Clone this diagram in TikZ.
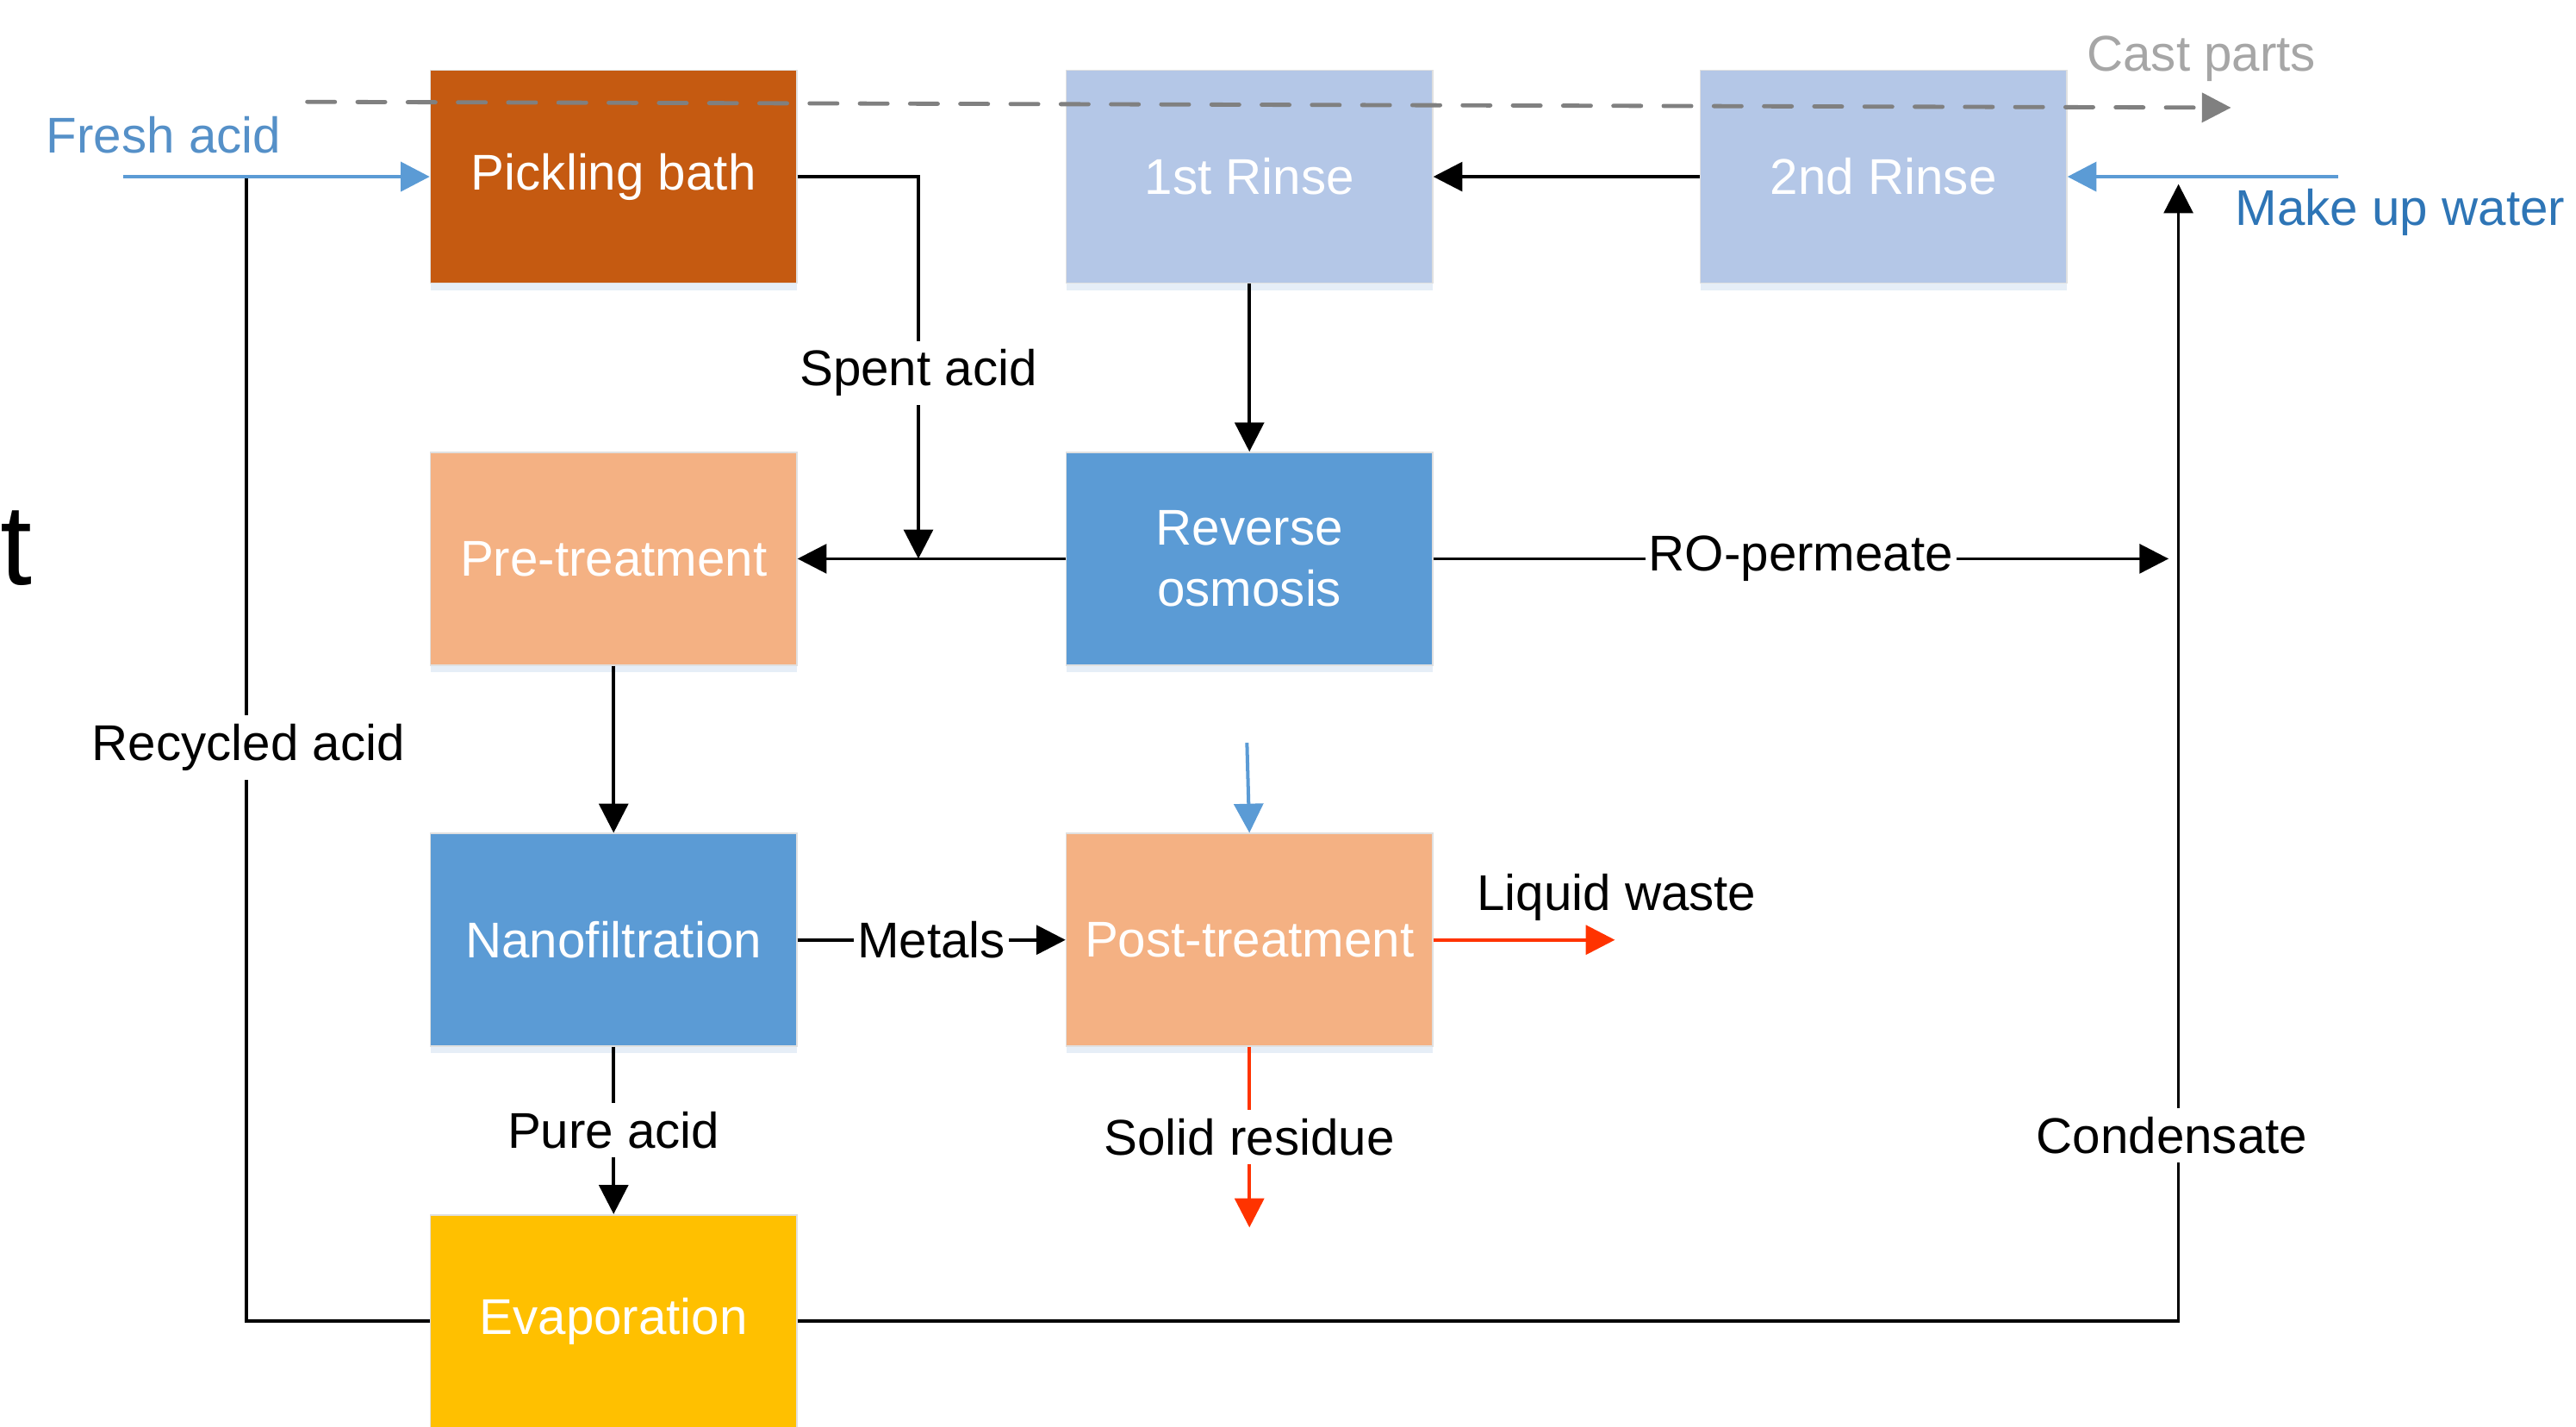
\documentclass[tikz,border=0pt]{standalone}
\usepackage{fontspec}
\setmainfont{Liberation Sans}
\usetikzlibrary{arrows.meta,shadows}

\definecolor{bathcol}{HTML}{C55A11}
\definecolor{rinsecol}{HTML}{B4C7E7}
\definecolor{treatcol}{HTML}{F4B183}
\definecolor{membcol}{HTML}{5B9BD5}
\definecolor{evapcol}{HTML}{FFC000}
\definecolor{acidblue}{HTML}{5B9BD5}
\definecolor{acidtext}{HTML}{5590C8}
\definecolor{watertext}{HTML}{2E75B6}
\definecolor{castgray}{HTML}{808080}
\definecolor{casttext}{HTML}{A6A6A6}
\definecolor{wastered}{HTML}{FF3300}
\definecolor{shadowcol}{HTML}{E6EEF7}

\newcommand{\labelsize}{\fontsize{14.5}{17.5}\selectfont}

\tikzset{
  procbox/.style={rectangle, fill=#1, draw=black!12, line width=0.4pt,
    minimum width=3.717cm, minimum height=2.158cm, text=white,
    align=center, font=\labelsize,
    drop shadow={shadow xshift=0pt, shadow yshift=-2pt, fill=shadowcol, opacity=1}},
  flow/.style={line width=0.9pt, -{Triangle[length=8.4pt,width=8.4pt]}},
  feed/.style={flow, line width=1.2pt, color=acidblue},
  waste/.style={flow, line width=1pt, color=wastered},
  gap/.style={fill=white, text=black, inner xsep=1pt, inner ysep=2.5pt, font=\labelsize},
  tag/.style={font=\labelsize, inner sep=0pt},
}

\begin{document}
\begin{tikzpicture}
\useasboundingbox (0,0) rectangle (26.133,-14.467);

% stray letter at the left margin
\node[anchor=base west, inner sep=0pt, font=\fontsize{33}{40}\selectfont] (t) at (0,-5.933) {t};

% process units
\node[procbox=bathcol] (bath) at (6.225,-1.792) {Pickling bath};
\node[procbox=rinsecol] (rinse1) at (12.675,-1.792) {1st Rinse};
\node[procbox=rinsecol] (rinse2) at (19.108,-1.792) {2nd Rinse};
\node[procbox=treatcol] (pre) at (6.225,-5.667) {Pre-treatment};
\node[procbox=membcol] (ro) at (12.675,-5.667) {Reverse\\osmosis};
\node[procbox=membcol] (nf) at (6.225,-9.533) {Nanofiltration};
\node[procbox=treatcol] (post) at (12.675,-9.533) {Post-treatment};
\node[procbox=evapcol] (evap) at (6.225,-13.4) {Evaporation};

% free ends
\coordinate (freshin) at (1.25,-1.792);
\coordinate (recyc) at (2.5,-1.792);
\coordinate (spentin) at (9.317,-5.667);
\coordinate (waterin) at (23.717,-1.792);
\coordinate (condtop) at (22.1,-1.867);
\coordinate (permend) at (22.0,-5.667);
\coordinate (dosing) at (12.65,-7.533);
\coordinate (liquidend) at (16.383,-9.533);
\coordinate (solidend) at (12.675,-12.45);
\coordinate (caststart) at (3.117,-1.033);
\coordinate (castend) at (22.633,-1.092);

% recycle loops
\draw[line width=0.9pt] (evap.west) -| (recyc);
\node[gap] (recycled) at (2.52,-7.583) {Recycled acid};
\draw[flow] (evap.east) -| (condtop);
\node[gap] (condensate) at (22.033,-11.517) {Condensate};

% fresh acid and make up water
\draw[feed] (freshin) -- (bath.west);
\node[tag, text=acidtext, anchor=base] (fresh) at (1.66,-1.55) {Fresh acid};
\draw[feed] (waterin) -- (rinse2.east);
\node[tag, text=watertext, anchor=base] (water) at (24.35,-2.283) {Make up water};

% main flows
\draw[flow] (bath.east) -| (spentin);
\node[gap] (spent) at (9.317,-3.783) {Spent acid};
\draw[flow] (rinse2.west) -- (rinse1.east);
\draw[flow] (rinse1.south) -- (ro.north);
\draw[flow] (ro.west) -- (pre.east);
\draw[flow] (ro.east) -- node[gap] (permeate) {RO-permeate} (permend);
\draw[flow] (pre.south) -- (nf.north);
\draw[flow] (nf.east) -- node[gap] (metals) {Metals} (post.west);
\draw[flow] (nf.south) -- node[gap] (pure) {Pure acid} (evap.north);

% dosing and waste streams
\draw[feed, line width=1pt] (dosing) -- (post.north);
\draw[waste] (post.east) -- (liquidend);
\node[tag, anchor=base] (liquid) at (16.4,-9.233) {Liquid waste};
\draw[waste] (post.south) -- node[gap] (solid) {Solid residue} (solidend);

% cast parts
\draw[castgray, line width=1.2pt, line cap=round, dash pattern=on 8pt off 6.5pt,
  -{Triangle[length=8.4pt,width=8.4pt]}] (caststart) -- (castend);
\node[tag, text=casttext, anchor=base] (cast) at (22.333,-0.717) {Cast parts};
\end{tikzpicture}
\end{document}
